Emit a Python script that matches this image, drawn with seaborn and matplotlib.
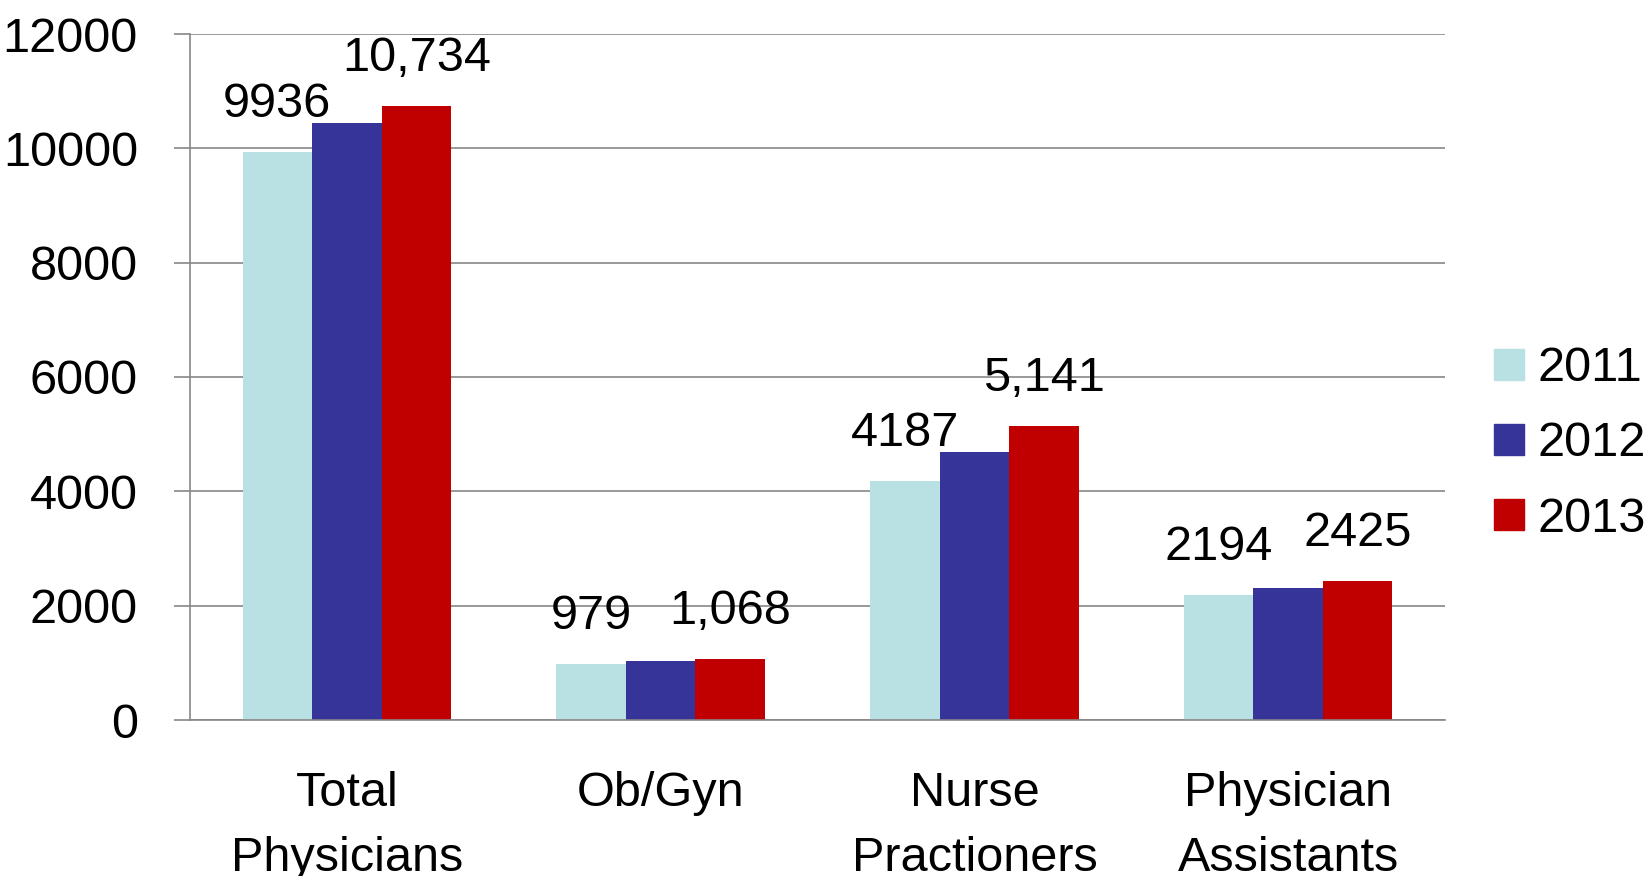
import matplotlib
matplotlib.use("Agg")
import matplotlib.pyplot as plt
import pandas as pd
import seaborn as sns

categories = ["Total\nPhysicians", "Ob/Gyn", "Nurse\nPractioners", "Physician\nAssistants"]
years = ["2011", "2012", "2013"]
values_2011 = [9936, 979, 4187, 2194]
values_2012 = [10450, 1025, 4680, 2310]
values_2013 = [10734, 1068, 5141, 2425]
labels_2011 = ["9936", "979", "4187", "2194"]
labels_2013 = ["10,734", "1,068", "5,141", "2425"]
colors = ["#B9E0E3", "#363399", "#C00000"]

rows = []
for year, vals in zip(years, [values_2011, values_2012, values_2013]):
    for cat, v in zip(categories, vals):
        rows.append({"category": cat, "year": year, "value": v})
df = pd.DataFrame(rows)

sns.set_style("white")
plt.rcParams["font.family"] = ["Liberation Sans", "DejaVu Sans"]
plt.rcParams["text.color"] = "black"
plt.rcParams["xtick.labelcolor"] = "black"
plt.rcParams["ytick.labelcolor"] = "black"
FS = 35
GRAY = "#878787"

fig = plt.figure(figsize=(16.48, 8.76), dpi=100)
ax = fig.add_axes([190 / 1648, 1 - 720 / 876, (1445 - 190) / 1648, (720 - 34) / 876])

sns.barplot(data=df, x="category", y="value", hue="year", palette=colors,
            width=0.665, saturation=1, ax=ax, linewidth=0, legend=False)

ax.bar_label(ax.containers[0], labels=labels_2011, padding=18, fontsize=FS, color="black")
ax.bar_label(ax.containers[2], labels=labels_2013, padding=18, fontsize=FS, color="black")

ax.set_ylim(0, 12000)
ax.set_xlim(-0.5, 3.5)
ax.set_yticks(range(0, 12001, 2000))
ax.yaxis.grid(True, color=GRAY, linewidth=1.2)
ax.set_axisbelow(True)
for side in ["top", "right"]:
    ax.spines[side].set_visible(False)
for side in ["left", "bottom"]:
    ax.spines[side].set_color(GRAY)
    ax.spines[side].set_linewidth(1.2)

ax.set_xticks([-0.5, 0.5, 1.5, 2.5, 3.5], minor=True)
ax.tick_params(axis="x", which="major", length=0, pad=37, labelsize=FS, labelcolor="black")
ax.tick_params(axis="x", which="minor", length=13, width=1.2, color=GRAY, direction="out")
ax.tick_params(axis="y", which="major", left=True, length=11.5, width=1.2, color=GRAY,
               direction="out", pad=26, labelsize=FS, labelcolor="black")
for lbl in ax.get_xticklabels():
    lbl.set_linespacing(1.55)
ax.set_xlabel("")
ax.set_ylabel("")

handles = [plt.Rectangle((0, 0), 1, 1, color=c) for c in colors]
fig.legend(handles, years, loc="center left", bbox_to_anchor=(1494 / 1648, 1 - 444 / 876),
           frameon=False, fontsize=FS, handlelength=0.62, handleheight=0.62,
           handletextpad=0.27, labelspacing=0.62, borderpad=0, borderaxespad=0)

fig.savefig("out.png", dpi=100)
